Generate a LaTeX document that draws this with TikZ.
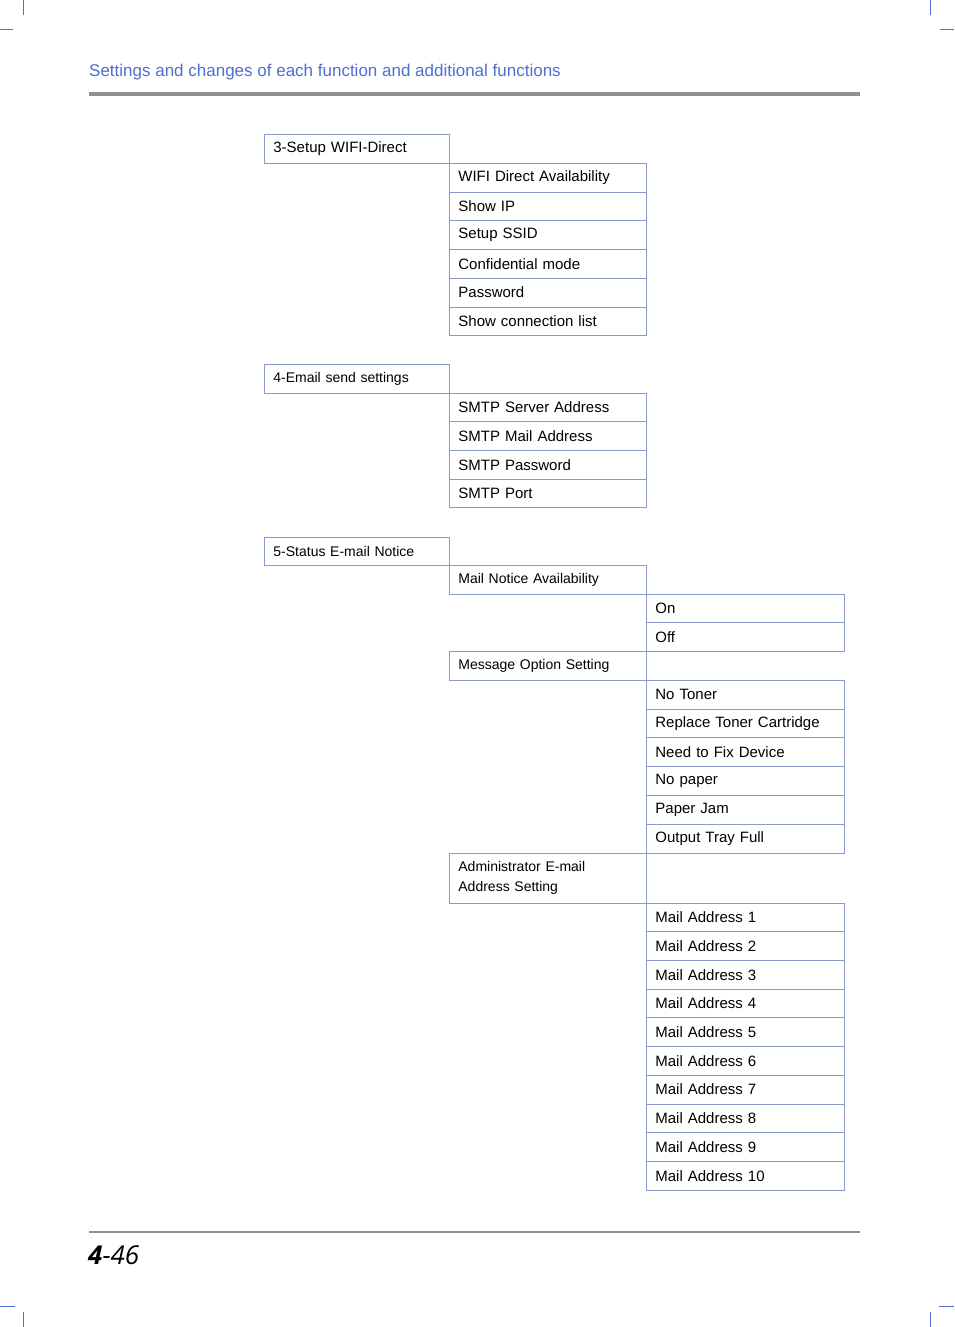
\documentclass[tikz,border=0pt]{standalone}
\usepackage{fontspec}
\setmainfont{Liberation Sans}
\newfontfamily\pagefont{Open Sans}
\definecolor{boxline}{HTML}{8C9AD0}
\definecolor{headblue}{HTML}{4F6FD0}
\definecolor{rulegray}{HTML}{909090}
\tikzset{
  cell/.style={draw=boxline, line width=0.8pt, anchor=north west, inner xsep=9pt, inner ysep=0pt,
    align=left, minimum height=#1, font=\fontsize{15}{20}\selectfont},
  cell/.default=28.7pt,
  colA/.style={text width=167pt, minimum width=185pt},
  colB/.style={text width=179pt, minimum width=197pt},
  colC/.style={text width=180pt, minimum width=198pt},
  crop/.style={draw=headblue, line width=0.6pt}
}
\begin{document}
\begin{tikzpicture}[x=1pt,y=-1pt]
  \useasboundingbox (0,0) rectangle (954,1327);
  % crop marks
  \draw[crop] (23,0) -- (23,15) (0,29) -- (13,29);
  \draw[crop] (930,0) -- (930,15) (940,29) -- (954,29);
  \draw[crop] (0,1306) -- (15,1306) (23,1312) -- (23,1327);
  \draw[crop] (939,1306) -- (954,1306) (930,1312) -- (930,1327);
  % header and footer
  \node[anchor=base west, inner sep=0pt, text=headblue, font=\fontsize{17}{20}\selectfont] (title) at (89,77)
    {Settings and changes of each function and additional functions};
  \draw[rulegray, line width=4pt] (89,94) -- (860,94);
  \draw[rulegray, line width=2pt] (89,1232) -- (860,1232);
  \node[anchor=base west, inner sep=0pt, font=\pagefont\fontsize{26}{30}\selectfont\itshape] (pageno) at (88,1264)
    {\textbf{4}-46};

  % 3-Setup WIFI-Direct
  \node[cell, colA, font=\fontsize{15}{20}\selectfont] (wifi) at (264,134) {3-Setup WIFI-Direct};
  \foreach \t [count=\i from 0] in {WIFI Direct Availability, Show IP, Setup SSID,
      Confidential mode, Password, Show connection list}
    \node[cell, colB] (wifi\i) at (449,163+28.7*\i) {\t};

  % 4-Email send settings
  \node[cell, colA, font=\fontsize{14}{18}\selectfont] (email) at (264,364) {4-Email send settings};
  \foreach \t [count=\i from 0] in {SMTP Server Address, SMTP Mail Address, SMTP Password, SMTP Port}
    \node[cell, colB] (email\i) at (449,392.5+28.7*\i) {\t};

  % 5-Status E-mail Notice
  \node[cell, colA, font=\fontsize{14}{18}\selectfont] (notice) at (264,536.5) {5-Status E-mail Notice};
  \node[cell, colB, font=\fontsize{14}{18}\selectfont] (avail) at (449,565) {Mail Notice Availability};
  \node[cell, colC] (on) at (646,593.7) {On};
  \node[cell, colC] (off) at (646,622.4) {Off};
  \node[cell, colB, font=\fontsize{14}{18}\selectfont] (option) at (449,651.1) {Message Option Setting};
  \foreach \t [count=\i from 0] in {No Toner, Replace Toner Cartridge, Need to Fix Device,
      No paper, Paper Jam, Output Tray Full}
    \node[cell, colC] (opt\i) at (646,679.8+28.8*\i) {\t};
  \node[cell=50pt, colB, font=\fontsize{14}{20}\selectfont] (admin) at (449,852.6)
    {Administrator E-mail\\Address Setting};
  \foreach \i in {1,...,10}
    \node[cell, colC] (mail\i) at (646,902.6+28.7*\i-28.7) {Mail Address \i};
\end{tikzpicture}
\end{document}
